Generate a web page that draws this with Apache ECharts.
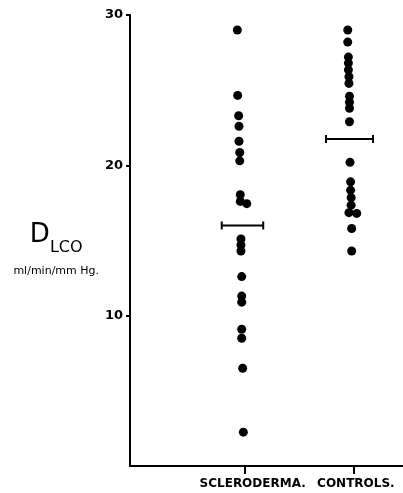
<!DOCTYPE html>
<html>
<head>
<meta charset="utf-8">
<script src="https://cdn.jsdelivr.net/npm/echarts@6/dist/echarts.min.js"></script>
<style>
html,body{margin:0;padding:0;background:#fff;}
#c{width:403px;height:493px;}
</style>
</head>
<body>
<div id="c"></div>
<script>
// ---- data ----
const categories = ['SCLERODERMA.', 'CONTROLS.'];
const categoryPos = [1, 2];
const yTicks = [10, 20, 30];

const sclerodermaValues = [29.0, 24.65, 23.3, 22.6, 21.6, 20.85, 20.3, 18.05, 17.6, 17.45,
  15.1, 14.7, 14.3, 12.6, 11.3, 10.9, 9.1, 8.5, 6.5, 2.25];
const sclerodermaX = [0.933, 0.936, 0.945, 0.948, 0.948, 0.955, 0.955, 0.96, 0.96, 1.019,
  0.966, 0.966, 0.966, 0.973, 0.973, 0.973, 0.973, 0.973, 0.982, 0.988];

const controlsValues = [29.0, 28.2, 27.2, 26.8, 26.35, 25.9, 25.45, 24.6, 24.2, 23.8,
  22.9, 20.2, 18.9, 18.35, 17.85, 17.35, 16.85, 16.8, 15.8, 14.3];
const controlsX = [1.944, 1.944, 1.95, 1.95, 1.95, 1.955, 1.955, 1.96, 1.96, 1.96,
  1.96, 1.965, 1.97, 1.97, 1.975, 1.975, 1.955, 2.026, 1.98, 1.98];

const meanValues = [16.0, 21.75];

// ---- chart ----
const FONT = 'DejaVu Sans';
const BAR_LEFT = [0.21, 0.255];
const BAR_RIGHT = [0.17, 0.175];

function zip(xs, ys) { return ys.map((v, i) => [xs[i], v]); }

const meanSeries = meanValues.map((m, i) => ({
  type: 'line',
  data: [[categoryPos[i] - BAR_LEFT[i], m], [categoryPos[i] + BAR_RIGHT[i], m]],
  symbol: 'rect',
  symbolSize: [2, 8],
  itemStyle: { color: '#000', opacity: 1 },
  lineStyle: { color: '#000', width: 2 },
  silent: true,
  z: 3
}));

const chart = echarts.init(document.getElementById('c'), null, { renderer: 'canvas' });
chart.setOption({
  animation: false,
  backgroundColor: '#fff',
  grid: { left: 130, right: 0, top: 15, bottom: 27, containLabel: false, outerBoundsMode: 'none' },
  xAxis: {
    type: 'value',
    min: -0.05,
    max: 2.45,
    axisLine: { show: true, onZero: false, lineStyle: { color: '#000', width: 2 } },
    axisTick: { show: true, customValues: categoryPos, length: 8, lineStyle: { color: '#000', width: 2 } },
    axisLabel: {
      customValues: categoryPos,
      margin: 12,
      formatter: function (v) {
        const i = categoryPos.indexOf(v);
        if (i < 0) return '';
        return (i === 0 ? '{a|' : '{b|') + categories[i] + '}';
      },
      rich: {
        a: { fontFamily: FONT, fontSize: 12, fontWeight: 'bold', color: '#000', padding: [0, 0, 0, 16] },
        b: { fontFamily: FONT, fontSize: 12, fontWeight: 'bold', color: '#000', padding: [0, 0, 0, 4] }
      }
    },
    splitLine: { show: false }
  },
  yAxis: {
    type: 'value',
    min: 0,
    max: 30,
    interval: 10,
    axisLine: { show: true, onZero: false, lineStyle: { color: '#000', width: 2 } },
    axisTick: { show: true, customValues: yTicks, length: 4, lineStyle: { color: '#000', width: 2 } },
    axisLabel: {
      customValues: yTicks,
      margin: 7,
      fontFamily: FONT,
      fontSize: 13,
      fontWeight: 'bold',
      color: '#000'
    },
    splitLine: { show: false },
    name: '{d|D}{s|LCO}\n{u|ml/min/mm Hg.}',
    nameLocation: 'middle',
    nameRotate: 0,
    nameGap: 72,
    nameTextStyle: {
      align: 'center',
      verticalAlign: 'middle',
      padding: [36, 0, 0, 0],
      rich: {
        d: { fontFamily: FONT, fontSize: 26, color: '#000', lineHeight: 26, verticalAlign: 'bottom', align: 'center', padding: [0, 0, 7, 0] },
        s: { fontFamily: FONT, fontSize: 16, color: '#000', lineHeight: 16, verticalAlign: 'bottom', align: 'center' },
        u: { fontFamily: FONT, fontSize: 11, color: '#000', lineHeight: 32, align: 'center' }
      }
    }
  },
  series: [
    {
      type: 'scatter',
      name: categories[0],
      data: zip(sclerodermaX, sclerodermaValues),
      symbolSize: 9,
      itemStyle: { color: '#000', opacity: 1 },
      z: 4
    },
    {
      type: 'scatter',
      name: categories[1],
      data: zip(controlsX, controlsValues),
      symbolSize: 9,
      itemStyle: { color: '#000', opacity: 1 },
      z: 4
    }
  ].concat(meanSeries)
});
</script>
</body>
</html>
